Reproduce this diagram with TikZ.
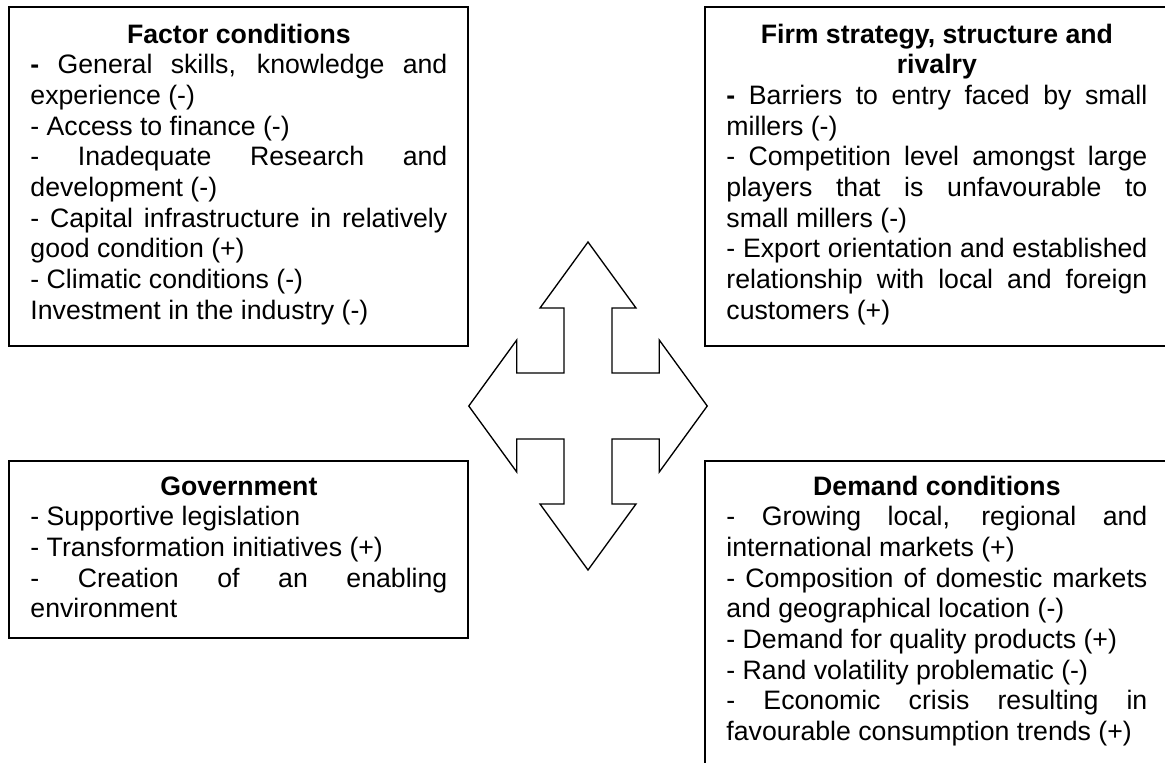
\documentclass[tikz,border=0pt]{standalone}
\usepackage{fontspec}
\setmainfont{Liberation Sans}
\tolerance=10000
\hyphenpenalty=10000
\begin{document}
\begin{tikzpicture}[x=0.45pt,y=-0.45pt,
  frame/.style={line width=0.7pt},
  boxtext/.style={anchor=base west,inner sep=0pt,
    font=\fontsize{12pt}{13.8pt}\selectfont},
  lefttext/.style={boxtext,execute at begin node={\begin{minipage}[t]{187.6pt}},
    execute at end node={\end{minipage}}},
  righttext/.style={boxtext,execute at begin node={\begin{minipage}[t]{189.4pt}},
    execute at end node={\end{minipage}}}]
\clip (0,0) rectangle (1165,762);
\fill [white] (0,0) rectangle (1165,762);
% frames
\draw [frame] (9,7) rectangle (468,346);
\draw [frame] (705,7) rectangle (1180,346);
\draw [frame] (9,461) rectangle (468,638);
\draw [frame] (705,461) rectangle (1180,790);
% texts
\node [lefttext] (factor) at (30,43) {{\centering\bfseries Factor conditions\par}
\textbf{-} General skills, knowledge and\linebreak experience (-)\par
- Access to finance (-)\par
- Inadequate Research and\linebreak development (-)\par
- Capital infrastructure in relatively\linebreak good condition (+)\par
- Climatic conditions (-)\par
Investment in the industry (-)};
\node [righttext] (firm) at (726,43) {{\centering\bfseries Firm strategy, structure and\\ rivalry\par}
\textbf{-} Barriers to entry faced by small\linebreak millers (-)\par
- Competition level amongst large\linebreak players that is unfavourable to\linebreak small millers (-)\par
- Export orientation and established\linebreak relationship with local and foreign\linebreak customers (+)};
\node [lefttext] (government) at (30,495) {{\centering\bfseries Government\par}
- Supportive legislation\par
- Transformation initiatives (+)\par
- Creation of an enabling\linebreak environment};
\node [righttext] (demand) at (726,495) {{\centering\bfseries Demand conditions\par}
- Growing local, regional and\linebreak international markets (+)\par
- Composition of domestic markets\linebreak and geographical location (-)\par
- Demand for quality products (+)\par
- Rand volatility problematic (-)\par
- Economic crisis resulting in\linebreak favourable consumption trends (+)};
% four-way arrow
\begin{scope}[shift={(588,406)},xscale=0.727]
\draw [line width=0.6pt,fill=white]
  (33,-33) -- (33,-98) -- (66,-98) -- (0,-164) -- (-66,-98) -- (-33,-98) -- (-33,-33)
  -- (-98,-33) -- (-98,-66) -- (-164,0) -- (-98,66) -- (-98,33) -- (-33,33)
  -- (-33,98) -- (-66,98) -- (0,164) -- (66,98) -- (33,98) -- (33,33)
  -- (98,33) -- (98,66) -- (164,0) -- (98,-66) -- (98,-33) -- cycle;
\end{scope}
\end{tikzpicture}
\end{document}
